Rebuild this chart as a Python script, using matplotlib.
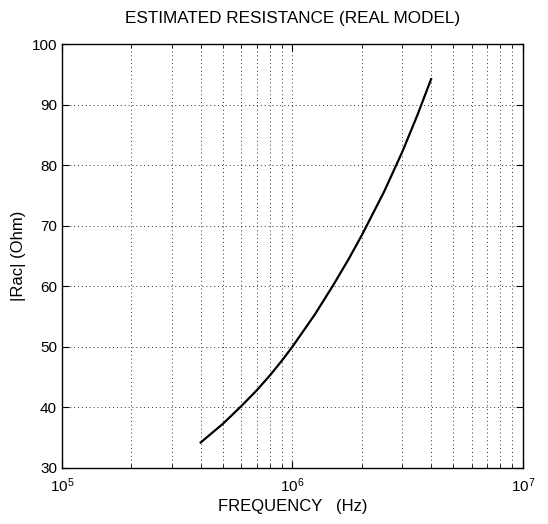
import matplotlib
matplotlib.use("Agg")
from matplotlib import pyplot as plt
from matplotlib.ticker import LogLocator, NullFormatter

plt.rcParams['font.family'] = ['Liberation Sans', 'DejaVu Sans']
plt.rcParams['mathtext.fontset'] = 'custom'
plt.rcParams['mathtext.rm'] = 'Liberation Sans'

# frequency (Hz) and estimated resistance (Ohm)
freq = [4.0e5, 5.0e5, 6.0e5, 7.0e5, 8.0e5, 9.0e5, 1.0e6, 1.25e6, 1.5e6,
        1.75e6, 2.0e6, 2.5e6, 3.0e6, 3.5e6, 4.0e6]
rac = [34.2, 37.3, 40.2, 42.8, 45.3, 47.7, 50.0, 55.3, 60.1,
       64.4, 68.4, 75.6, 82.2, 88.4, 94.2]

fig = plt.figure(figsize=(5.48, 5.24), dpi=100)
ax = fig.add_axes([0.113, 0.107, 0.841, 0.809])

ax.semilogx(freq, rac, color='black', linewidth=1.6)

ax.set_xlim(1e5, 1e7)
ax.set_ylim(30, 100)
ax.set_yticks([30, 40, 50, 60, 70, 80, 90, 100])
ax.xaxis.set_major_locator(LogLocator(base=10))
ax.xaxis.set_minor_locator(LogLocator(base=10, subs=range(2, 10)))
ax.xaxis.set_minor_formatter(NullFormatter())

ax.grid(True, which='major', axis='both', linestyle=(0, (1, 3)), color='#333333', linewidth=0.7)
ax.grid(True, which='minor', axis='x', linestyle=(0, (1, 3)), color='#333333', linewidth=0.7)

ax.tick_params(which='both', direction='in', top=True, right=True, labelsize=11)
ax.tick_params(which='major', length=5)
ax.tick_params(which='minor', length=3)
ax.tick_params(axis='x', which='major', pad=6)
for s in ax.spines.values():
    s.set_linewidth(1.0)

ax.set_title('ESTIMATED RESISTANCE (REAL MODEL)', fontsize=12.3, pad=15)
ax.set_xlabel('FREQUENCY   (Hz)', fontsize=12, labelpad=3)
ax.set_ylabel('|Rac| (Ohm)', fontsize=12, labelpad=4)

plt.savefig('out.png', dpi=100)
